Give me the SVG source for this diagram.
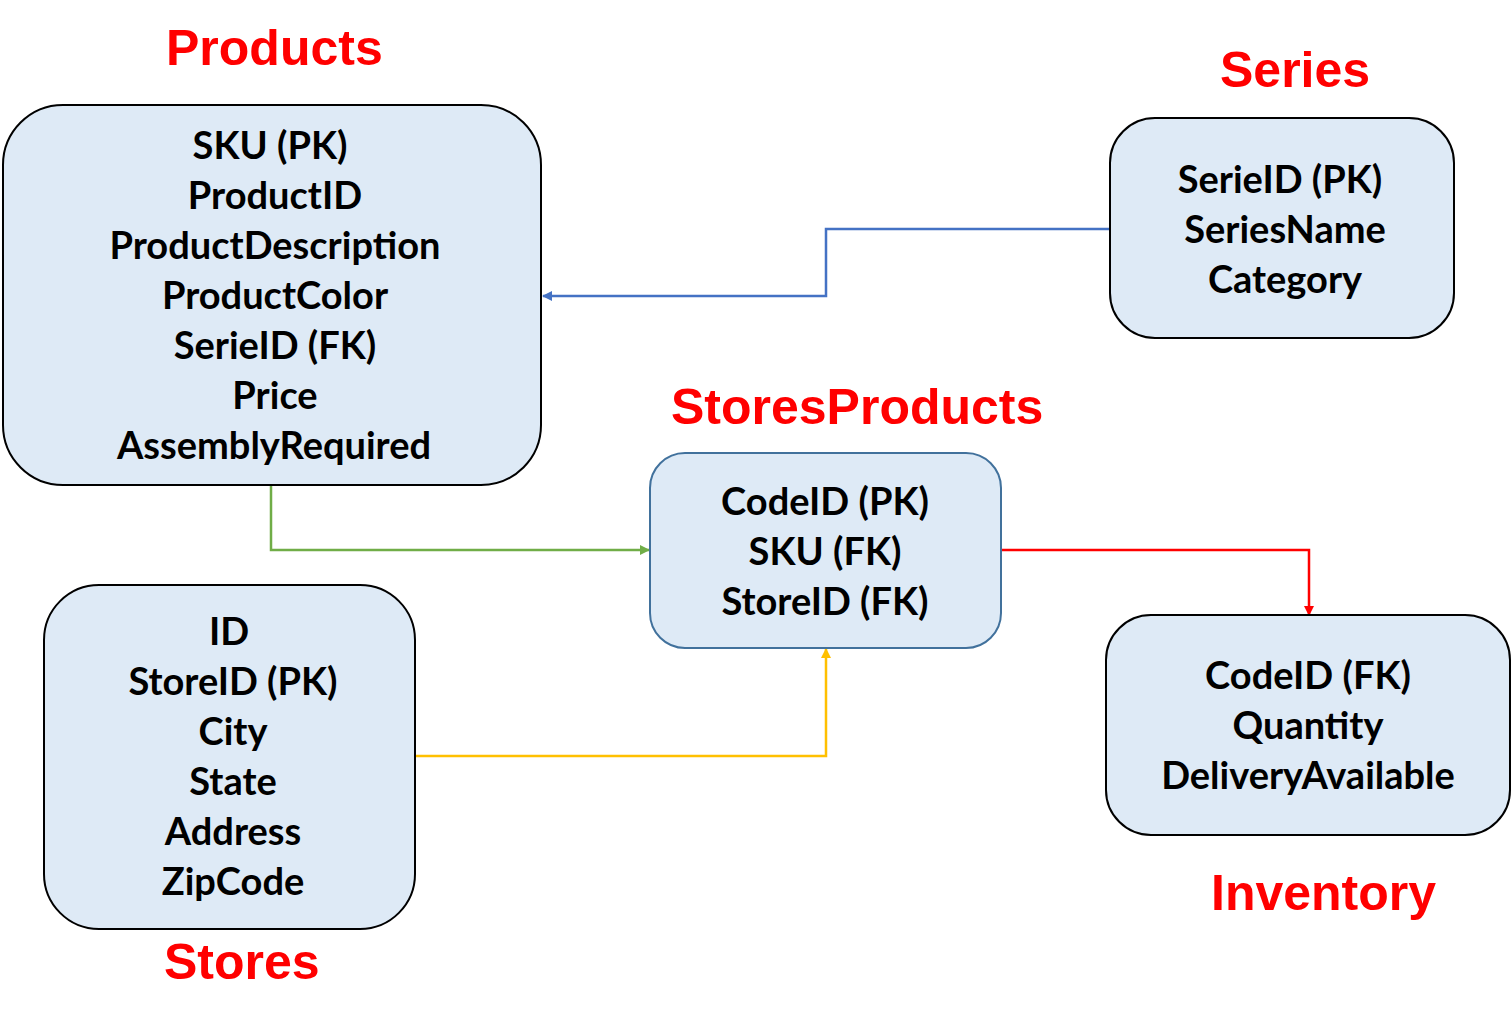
<svg xmlns="http://www.w3.org/2000/svg" width="1512" height="1022" viewBox="0 0 1512 1022">
<style>
.box{fill:#DEEAF6;stroke:#000;stroke-width:2}
.box2{fill:#DEEAF6;stroke:#41719C;stroke-width:2}
.t{font-family:Lato,"Open Sans","Liberation Sans",sans-serif;font-weight:bold;font-size:38px;fill:#000;text-anchor:middle}
.h{font-family:"Liberation Sans",Arial,sans-serif;font-weight:bold;font-size:50px;fill:#FF0000}
.c{fill:none;stroke-width:2.5}
</style>
<defs>
<marker id="aBlue" markerWidth="10" markerHeight="10" refX="9" refY="5" orient="auto" markerUnits="userSpaceOnUse" viewBox="0 0 10 10"><path d="M0,0 L10,5 L0,10 z" fill="#4472C4"/></marker>
<marker id="aGreen" markerWidth="10" markerHeight="10" refX="9" refY="5" orient="auto" markerUnits="userSpaceOnUse" viewBox="0 0 10 10"><path d="M0,0 L10,5 L0,10 z" fill="#70AD47"/></marker>
<marker id="aYellow" markerWidth="10" markerHeight="10" refX="9" refY="5" orient="auto" markerUnits="userSpaceOnUse" viewBox="0 0 10 10"><path d="M0,0 L10,5 L0,10 z" fill="#FFC000"/></marker>
<marker id="aRed" markerWidth="10" markerHeight="10" refX="9" refY="5" orient="auto" markerUnits="userSpaceOnUse" viewBox="0 0 10 10"><path d="M0,0 L10,5 L0,10 z" fill="#FF0000"/></marker>
</defs>
<rect width="1512" height="1022" fill="#fff"/>
<g id="connectors">
<path class="c" stroke="#4472C4" d="M1110,229 H826 V296 H543" marker-end="url(#aBlue)"/>
<path class="c" stroke="#70AD47" d="M271,486 V550 H649" marker-end="url(#aGreen)"/>
<path class="c" stroke="#FFC000" d="M415,756 H826 V649" marker-end="url(#aYellow)"/>
<path class="c" stroke="#FF0000" d="M1001,550 H1309 V615" marker-end="url(#aRed)"/>
</g>
<g id="products">
<rect class="box" x="3" y="105" width="538" height="380" rx="60" ry="60"/>
<text class="t" x="270" y="159">SKU (PK)</text>
<text class="t" x="275" y="209">ProductID</text>
<text class="t" x="275" y="259">ProductDescription</text>
<text class="t" x="275" y="309">ProductColor</text>
<text class="t" x="275" y="359">SerieID (FK)</text>
<text class="t" x="275" y="409">Price</text>
<text class="t" x="274" y="459">AssemblyRequired</text>
<text class="h" x="166" y="65">Products</text>
</g>
<g id="series">
<rect class="box" x="1110" y="118" width="344" height="220" rx="45" ry="45"/>
<text class="t" x="1280" y="193">SerieID (PK)</text>
<text class="t" x="1285" y="243">SeriesName</text>
<text class="t" x="1285" y="293">Category</text>
<text class="h" x="1220" y="87">Series</text>
</g>
<g id="storesproducts">
<rect class="box2" x="650" y="453" width="351" height="195" rx="35" ry="35"/>
<text class="t" x="825" y="515">CodeID (PK)</text>
<text class="t" x="825" y="565">SKU (FK)</text>
<text class="t" x="825" y="615">StoreID (FK)</text>
<text class="h" x="671" y="424">StoresProducts</text>
</g>
<g id="stores">
<rect class="box" x="44" y="585" width="371" height="344" rx="55" ry="55"/>
<text class="t" x="229" y="645">ID</text>
<text class="t" x="233" y="695">StoreID (PK)</text>
<text class="t" x="233" y="745">City</text>
<text class="t" x="233" y="795">State</text>
<text class="t" x="233" y="845">Address</text>
<text class="t" x="233" y="895">ZipCode</text>
<text class="h" x="164" y="979">Stores</text>
</g>
<g id="inventory">
<rect class="box" x="1106" y="615" width="404" height="220" rx="45" ry="45"/>
<text class="t" x="1308" y="689">CodeID (FK)</text>
<text class="t" x="1308" y="739">Quantity</text>
<text class="t" x="1308" y="789">DeliveryAvailable</text>
<text class="h" x="1211" y="910">Inventory</text>
</g>
</svg>
